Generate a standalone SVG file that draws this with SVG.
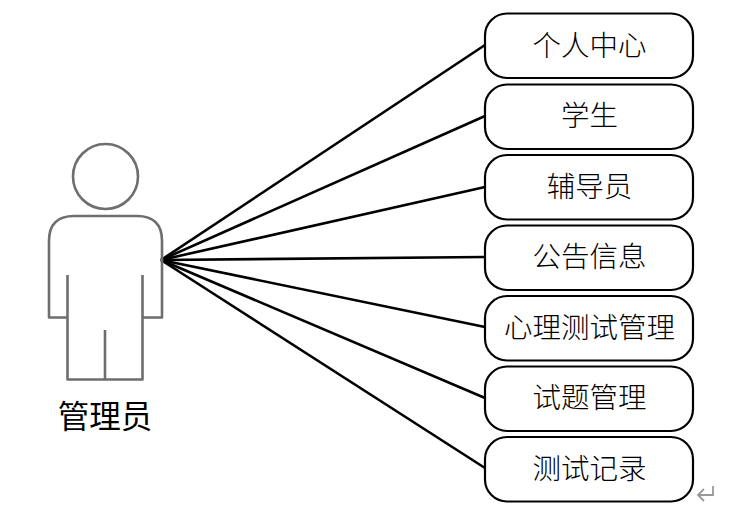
<svg xmlns="http://www.w3.org/2000/svg" width="745" height="508" viewBox="0 0 745 508">
<style>
.box{fill:#fff;stroke:#000;stroke-width:2.2}
.lbl{font-family:"Noto Sans CJK SC","Noto Sans CJK JP",serif;font-size:28.500px;font-weight:300;fill:#000;text-anchor:middle}
.act{fill:none;stroke:#6e6e6e;stroke-width:2.600;stroke-linejoin:round}
.con{fill:none;stroke:#000;stroke-width:2.600}
</style>
<rect width="745" height="508" fill="#fff"/>
<g id="connectors">
<path class="con" d="M161 260L485 45"/>
<path class="con" d="M161 260L485 116"/>
<path class="con" d="M161 260L485 187"/>
<path class="con" d="M161 260L485 257"/>
<path class="con" d="M161 260L485 327"/>
<path class="con" d="M161 260L485 398"/>
<path class="con" d="M161 260L485 468"/>
</g>
<g id="actor">
<circle class="act" cx="105.500" cy="176.500" r="32.500"/>
<path class="act" d="M67.500 275V317.500H49V241Q49 216 74 216H137Q162 216 162 241V317.500H142.500V275M67.500 317.500V379.500H142.500V317.500M105 330V379.500"/>
<text x="105" y="428" class="lbl" style="font-size:31.500px;font-weight:400">管理员</text>
</g>
<g id="n1"><rect class="box" x="485" y="13.500" width="208" height="64.500" rx="22"/><text class="lbl" x="589.500" y="55.500">个人中心</text></g>
<g id="n2"><rect class="box" x="485" y="84.500" width="208" height="64.500" rx="22"/><text class="lbl" x="589.500" y="125.500">学生</text></g>
<g id="n3"><rect class="box" x="485" y="155" width="208" height="64.500" rx="22"/><text class="lbl" x="589.500" y="196.500">辅导员</text></g>
<g id="n4"><rect class="box" x="485" y="225.500" width="208" height="64.500" rx="22"/><text class="lbl" x="589.500" y="266.500">公告信息</text></g>
<g id="n5"><rect class="box" x="485" y="296" width="208" height="64.500" rx="22"/><text class="lbl" x="589.500" y="337.500">心理测试管理</text></g>
<g id="n6"><rect class="box" x="485" y="366.500" width="208" height="64.500" rx="22"/><text class="lbl" x="589.500" y="407.500">试题管理</text></g>
<g id="n7"><rect class="box" x="485" y="437" width="208" height="64.500" rx="22"/><text class="lbl" x="589.500" y="478.500">测试记录</text></g>
<path d="M713 486V495H698M704 489L698 495L704 501" fill="none" stroke="#999" stroke-width="1.800"/>
</svg>
